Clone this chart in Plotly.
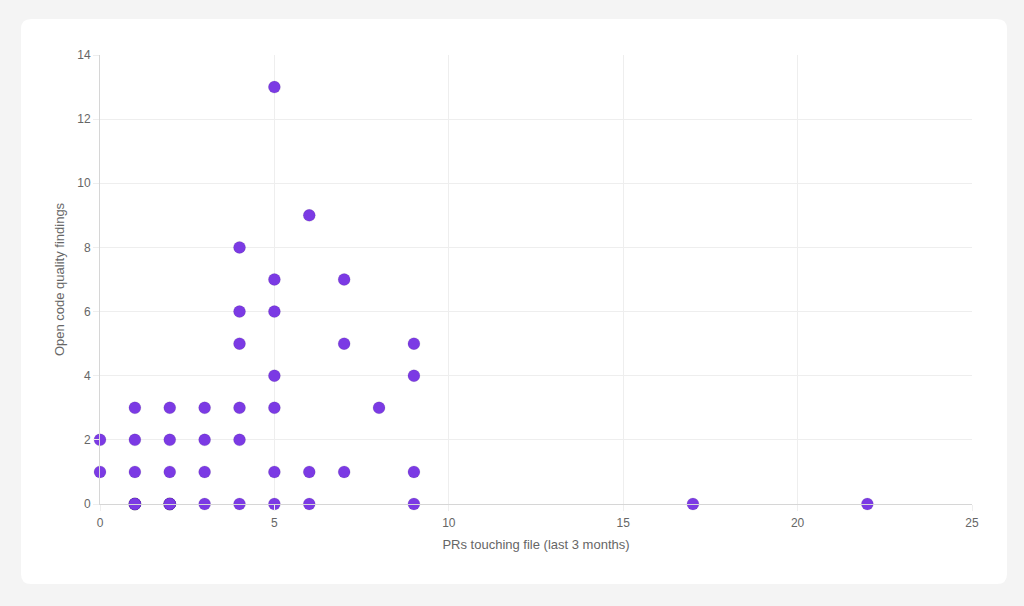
import plotly.graph_objects as go

prs = [0, 0,
       1, 1, 1, 1,
       2, 2, 2, 2,
       3, 3, 3, 3,
       4, 4, 4, 4, 4, 4,
       5, 5, 5, 5, 5, 5, 5,
       6, 6, 6,
       7, 7, 7,
       8,
       9, 9, 9, 9,
       17, 22]
findings = [2, 1,
            3, 2, 1, 0,
            3, 2, 1, 0,
            3, 2, 1, 0,
            8, 6, 5, 3, 2, 0,
            13, 7, 6, 4, 3, 1, 0,
            9, 1, 0,
            7, 5, 1,
            3,
            5, 4, 1, 0,
            0, 0]
# many files share (1,0) and (2,0)
dup_prs = [1] * 5 + [2] * 5
dup_findings = [0] * 10

x_all = prs + dup_prs
y_all = findings + dup_findings

L, R, T, B = 100, 52, 55, 102
W, H = 1024, 606
pw, ph = W - L - R, H - T - B

def px_to_paper(x, y):
    return (x - L) / pw, (H - B - y) / ph

x0, y0 = px_to_paper(21, 19)
x1, y1 = px_to_paper(1007, 584)
rx, ry = 10 / pw, 10 / ph
path = (f"M {x0+rx},{y0} L {x1-rx},{y0} Q {x1},{y0} {x1},{y0-ry} "
        f"L {x1},{y1+ry} Q {x1},{y1} {x1-rx},{y1} L {x0+rx},{y1} "
        f"Q {x0},{y1} {x0},{y1+ry} L {x0},{y0-ry} Q {x0},{y0} {x0+rx},{y0} Z")

fig = go.Figure()
fig.add_trace(go.Scatter(
    x=x_all, y=y_all, mode="markers",
    marker=dict(size=12, color="#7b3ae4",
                line=dict(width=1, color="rgba(20,0,40,0.1)")),
    cliponaxis=False, hoverinfo="x+y", showlegend=False,
))

fig.update_layout(
    width=W, height=H,
    margin=dict(l=L, r=R, t=T, b=B),
    paper_bgcolor="#f4f4f4",
    plot_bgcolor="white",
    font=dict(family="Liberation Sans, Arial, sans-serif", size=12, color="#666"),
    shapes=[dict(type="path", xref="paper", yref="paper", path=path,
                 fillcolor="white", line=dict(width=0), layer="below")],
    xaxis=dict(range=[0, 25], dtick=5, tick0=0,
               showgrid=True, gridcolor="#eeeeee", gridwidth=1,
               zeroline=False, showline=True, linecolor="#d6d6d6",
               ticks="outside", ticklen=6, tickcolor="#eeeeee",
               ticklabelstandoff=2,
               title=dict(text="PRs touching file (last 3 months)", standoff=10,
                          font=dict(size=13, color="#666"))),
    yaxis=dict(range=[0, 14], dtick=2, tick0=0,
               showgrid=True, gridcolor="#eeeeee", gridwidth=1,
               zeroline=False, showline=True, linecolor="#d6d6d6",
               ticks="outside", ticklen=6, tickcolor="#eeeeee",
               title=dict(text="Open code quality findings", standoff=9,
                          font=dict(size=13, color="#666"))),
)

fig.write_html("out.html")
